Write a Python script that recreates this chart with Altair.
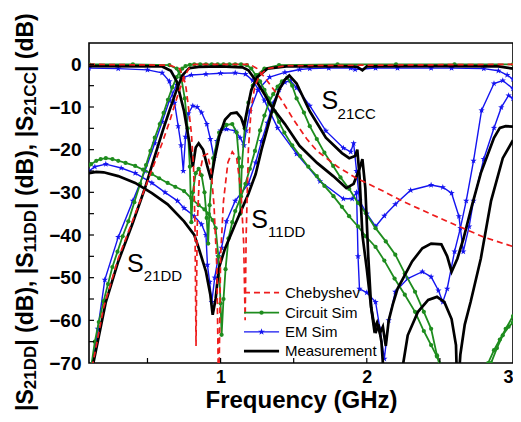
import altair as alt
import pandas as pd

SERIES = ["Chebyshev", "Circuit Sim", "EM Sim", "Measurement"]
X_LABEL_VALUES = [1, 2, 3]
Y_LABEL_VALUES = [0, -10, -20, -30, -40, -50, -60, -70]
X_TICK_VALUES = [0.5, 1.0, 1.5, 2.0, 2.5]
Y_TICK_VALUES = [0, -5, -10, -15, -20, -25, -30, -35, -40, -45, -50, -55, -60, -65]

# ---------------- Chebyshev (red dashed) ----------------
cheb_s21dd_f = [0.10, 0.127, 0.20, 0.30, 0.40, 0.50, 0.60, 0.65, 0.70, 0.75, 0.79, 0.82, 1.00, 1.20,
                1.25, 1.30, 1.35, 1.41, 1.50, 1.59, 1.66, 1.80, 1.93, 2.10, 2.24, 2.40, 2.55, 2.80, 3.00]
cheb_s21dd_db = [-78, -70, -57, -45.5, -36.5, -27.5, -18.5, -13.5, -8, -3, -0.6, 0, 0, 0,
                 -1, -3, -5.3, -8, -13, -17.5, -20.3, -24, -26.7, -29.5, -32, -34.5, -36.8, -40.5, -42.7]
cheb_s11dd_f = [0.10, 0.65, 0.72, 0.76, 0.78, 0.80, 0.815, 0.825, 0.832, 0.84, 0.855, 0.88, 0.91, 0.935,
                0.955, 0.975, 0.987, 1.00, 1.02, 1.05, 1.08, 1.11, 1.14, 1.158, 1.168, 1.175, 1.19, 1.21,
                1.235, 1.27, 1.32, 1.45, 3.00]
cheb_s11dd_db = [0, -0.2, -1, -4.5, -10, -16, -24, -38, -66, -38, -26, -21.5, -21, -25,
                 -33, -48, -80, -45, -32, -23, -20.5, -22, -30, -42, -60, -40, -20, -10,
                 -5, -2.5, -1, -0.3, 0]

# ---------------- Circuit Sim (green, dots) ----------------
circ_s21dd_f = [0.10, 0.11, 0.14, 0.167, 0.20, 0.23, 0.26, 0.295, 0.33, 0.369, 0.41, 0.45, 0.49, 0.52,
                0.55, 0.584, 0.61, 0.64, 0.67, 0.70, 0.72, 0.738, 0.76, 0.79, 0.82, 0.86, 0.90, 0.94,
                0.98, 1.02, 1.06, 1.10, 1.14, 1.18, 1.21, 1.24, 1.27, 1.30, 1.33, 1.37, 1.40, 1.436,
                1.49, 1.544, 1.60, 1.658, 1.71, 1.772, 1.83, 1.879, 1.94, 1.993, 2.06, 2.12, 2.19, 2.26,
                2.33, 2.39, 2.44, 2.48, 2.51, 2.54, 2.70, 2.80, 2.83, 2.87, 2.91, 2.95, 3.00]
circ_s21dd_db = [-80, -72, -65, -60.4, -55.5, -51.5, -47.5, -43.9, -40.3, -36.8, -32.3, -28, -23.6, -20.3,
                 -17.2, -14, -11.4, -8.3, -5.4, -3, -1.7, -1, -0.4, -0.1, 0, 0, 0, 0,
                 0, 0, 0, 0, 0, -0.2, -1, -2.5, -4, -6, -8, -11, -13.5, -16,
                 -19, -21.5, -24, -26.2, -28.5, -30.9, -33.4, -35.6, -38, -40.3, -42.8, -46, -50.2, -54,
                 -58, -62.5, -65.8, -68.5, -70.5, -73, -90, -73, -70, -67, -64.5, -62, -59]
circ_s11dd_f = [0.10, 0.40, 0.65, 0.70, 0.73, 0.755, 0.775, 0.79, 0.80, 0.81, 0.83, 0.85, 0.87, 0.89,
                0.905, 0.915, 0.925, 0.95, 0.99, 1.04, 1.08, 1.11, 1.125, 1.135, 1.145, 1.165, 1.19,
                1.22, 1.25, 1.30, 1.40, 1.80, 2.20, 2.60, 3.00]
circ_s11dd_db = [0, 0, -0.2, -1, -3, -8, -15, -24, -37, -30, -25.5, -24.5, -26, -30,
                 -36, -42, -33, -22, -16, -14.2, -14, -16, -22, -35, -24, -15, -9,
                 -5, -2.5, -1, -0.2, 0, 0, 0, 0]
circ_s21cc_f = [0.10, 0.114, 0.15, 0.18, 0.215, 0.26, 0.30, 0.35, 0.416, 0.47, 0.53, 0.58, 0.638, 0.69,
                0.75, 0.80, 0.85, 0.89, 0.92, 0.945, 0.966, 0.985, 1.00, 1.007, 1.02, 1.034, 1.054, 1.08,
                1.10, 1.14, 1.17, 1.20, 1.235, 1.27, 1.30, 1.33, 1.36, 1.39, 1.42, 1.456, 1.49, 1.52,
                1.57, 1.61, 1.658, 1.71, 1.77, 1.82, 1.88, 1.94, 1.993, 2.06, 2.13, 2.195, 2.26, 2.33,
                2.39, 2.44, 2.48, 2.51, 2.65, 2.80, 2.85, 2.89, 2.93, 2.97, 3.00]
circ_s21cc_db = [-23.6, -23.4, -22.6, -22.2, -22, -22.2, -22.6, -23.1, -23.8, -24.7, -25.7, -26.7, -27.8, -28.7,
                 -29.7, -31.4, -33, -34, -35.1, -36.5, -38.4, -45, -56, -63.4, -55, -48, -40.8, -37,
                 -34.4, -31, -28, -24.5, -20.3, -15.5, -12, -9, -7, -5.2, -4, -3.1, -5, -8,
                 -11.3, -14.5, -17.5, -20.7, -23.8, -26.5, -29.2, -32.5, -34.9, -38.4, -41.5, -44.6, -49, -53.3,
                 -58, -62, -68.2, -72, -90, -78, -70, -66.5, -63.5, -61.5, -60.5]

# ---------------- EM Sim (blue, stars) ----------------
em_s21dd_f = [0.10, 0.12, 0.16, 0.208, 0.30, 0.40, 0.483, 0.55, 0.60, 0.65, 0.70, 0.75, 0.80, 0.90,
              1.00, 1.10, 1.17, 1.22, 1.26, 1.30, 1.39, 1.52, 1.68, 1.84, 1.90, 1.93, 1.94, 1.95,
              2.00, 2.06, 2.09, 2.12, 2.15, 2.195, 2.28, 2.38, 2.44, 2.49, 2.52, 2.55, 2.60, 2.64,
              2.68, 2.73, 2.785, 2.87, 2.93, 3.00]
em_s21dd_db = [-80, -72, -62, -50.5, -40.5, -32, -25, -18.5, -13.5, -8.5, -4.8, -3, -2.5, -2.3,
               -2.1, -2.0, -2.3, -3.8, -6, -8.5, -14.9, -21, -27.4, -31.5, -31.5, -30, -45, -52.6,
               -53.5, -55.7, -62, -69, -60, -53.3, -50.2, -48.6, -49.8, -53, -55.7, -52.6, -43.9, -38.4,
               -32, -22.6, -10.8, -4.5, -3.8, -5.7]
em_s11dd_f = [0.10, 0.30, 0.50, 0.60, 0.65, 0.685, 0.71, 0.73, 0.745, 0.76, 0.78, 0.81, 0.84, 0.87,
              0.906, 0.93, 0.955, 0.975, 1.00, 1.04, 1.10, 1.134, 1.16, 1.175, 1.20, 1.255, 1.336, 1.44,
              1.54, 1.61, 1.74, 1.89, 1.92, 2.06, 2.21, 2.44, 2.58, 2.80, 2.90, 2.96, 3.00]
em_s11dd_db = [-0.9, -1.0, -1.3, -2, -4, -9, -14.5, -19, -25, -17, -11.5, -9.7, -10, -11.3,
               -14, -17.5, -22, -18, -15.5, -15.2, -15.6, -17.2, -19, -15.5, -11, -6, -3, -1.9,
               -1.2, -1, -0.9, -0.9, -1.2, -0.9, -0.9, -0.9, -0.9, -1.0, -1.5, -2.5, -3.5]
em_s21cc_f = [0.10, 0.14, 0.215, 0.32, 0.416, 0.53, 0.62, 0.705, 0.75, 0.82, 0.87, 0.90, 0.91, 0.925,
              0.94, 0.96, 0.985, 1.007, 1.04, 1.10, 1.19, 1.24, 1.28, 1.32, 1.36, 1.40, 1.44, 1.476,
              1.52, 1.61, 1.72, 1.84, 1.89, 1.91, 1.93, 1.95, 2.00, 2.06, 2.12, 2.195, 2.30, 2.44,
              2.52, 2.58, 2.63, 2.66, 2.70, 2.73, 2.80, 2.87, 2.92, 2.97, 3.00]
em_s21cc_db = [-25, -24, -23.4, -24.3, -25.5, -27.8, -30, -32, -33.7, -35.6, -37.5, -40, -47, -51,
               -55.7, -50, -45, -43, -36.8, -32, -28, -23, -18, -13.7, -9, -6, -4.2, -3.8,
               -5.5, -9.7, -15.6, -19.6, -20.5, -18.5, -25, -32, -35, -38, -35.5, -32.8, -29.5, -28.3,
               -28.8, -30.2, -35.6, -43.9, -38, -32, -22.2, -14.9, -10.1, -7.3, -8]

# ---------------- Measurement (black) ----------------
meas_s21dd_f = [0.10, 0.127, 0.215, 0.30, 0.396, 0.483, 0.55, 0.604, 0.651, 0.698, 0.738, 0.785, 0.85, 1.00,
                1.15, 1.19, 1.255, 1.30, 1.34, 1.44, 1.54, 1.66, 1.77, 1.86, 1.91, 1.95, 1.97, 1.99,
                2.01, 2.03, 2.05, 2.07, 2.09, 2.11, 2.13, 2.15, 2.18, 2.21, 2.31, 2.38, 2.44, 2.51,
                2.55, 2.58, 2.62, 2.66, 2.72, 2.78, 2.87, 2.91, 2.95, 3.00]
meas_s21dd_db = [-76, -70.5, -55.7, -46.2, -37.5, -29, -21.5, -15.6, -10.8, -6.1, -2.6, -0.9, -0.6, -0.5,
                 -0.7, -1.4, -4.5, -7, -9.5, -14, -19.1, -23.1, -26.2, -29, -28, -24.5, -22.2, -29,
                 -45, -57, -62, -60.5, -63, -61.5, -66, -60, -56, -52.6, -46.2, -43.1, -42, -42.2,
                 -45, -48.6, -45.5, -41, -33, -25.5, -17.2, -14.9, -14.5, -14.6]
meas_s11dd_f = [0.10, 0.60, 0.66, 0.70, 0.75, 0.785, 0.81, 0.83, 0.85, 0.88, 0.91, 0.935, 0.96, 0.99,
                1.03, 1.07, 1.11, 1.14, 1.16, 1.18, 1.21, 1.25, 1.32, 1.45, 1.90, 1.935, 1.97, 2.00,
                2.50, 2.90, 3.00]
meas_s11dd_db = [-0.4, -0.5, -1.5, -4, -11, -18, -24, -19.5, -18.5, -20, -24, -27, -22, -17,
                 -13, -11.5, -11.3, -12.5, -14.5, -11, -6, -3, -1, -0.5, -0.5, -0.6, -1.4, -0.5,
                 -0.4, -0.5, -1.0]
meas_s21cc_f = [0.10, 0.15, 0.20, 0.30, 0.416, 0.53, 0.638, 0.75, 0.82, 0.85, 0.90, 0.93, 0.946, 0.966,
                0.987, 1.03, 1.10, 1.19, 1.24, 1.28, 1.32, 1.36, 1.40, 1.44, 1.47, 1.52, 1.61, 1.72,
                1.83, 1.88, 1.92, 1.935, 1.95, 1.97, 2.00, 2.03, 2.06, 2.08, 2.10, 2.12, 2.18, 2.24,
                2.28, 2.35, 2.42, 2.48, 2.53, 2.58, 2.61, 2.62, 2.64, 2.67, 2.71, 2.78, 2.85, 2.93, 3.00]
meas_s21cc_db = [-25.5, -25.2, -25.3, -26.2, -27.8, -30.2, -32.8, -36.8, -40, -43, -48.6, -54, -58.7, -55,
                 -47.9, -43.2, -37.5, -30.4, -25.7, -20, -15, -10, -6, -3.6, -2.6, -4.5, -11, -17.2,
                 -20.8, -22, -21.5, -20, -26, -40, -48, -57, -63, -61, -65, -75, -90, -72,
                 -63.5, -58, -55.2, -54.5, -55.7, -59.7, -65.8, -78, -68, -61, -55.7, -45.5, -32, -22, -17.8]

CURVES = [
    ("Chebyshev", "S21DD", cheb_s21dd_f, cheb_s21dd_db),
    ("Chebyshev", "S11DD", cheb_s11dd_f, cheb_s11dd_db),
    ("Circuit Sim", "S21DD", circ_s21dd_f, circ_s21dd_db),
    ("Circuit Sim", "S11DD", circ_s11dd_f, circ_s11dd_db),
    ("Circuit Sim", "S21CC", circ_s21cc_f, circ_s21cc_db),
    ("EM Sim", "S21DD", em_s21dd_f, em_s21dd_db),
    ("EM Sim", "S11DD", em_s11dd_f, em_s11dd_db),
    ("EM Sim", "S21CC", em_s21cc_f, em_s21cc_db),
    ("Measurement", "S21DD", meas_s21dd_f, meas_s21dd_db),
    ("Measurement", "S11DD", meas_s11dd_f, meas_s11dd_db),
    ("Measurement", "S21CC", meas_s21cc_f, meas_s21cc_db),
]

rows = []
for s, c, fs, ds in CURVES:
    for i, (f, d) in enumerate(zip(fs, ds)):
        rows.append({"series": s, "curve": s + "|" + c, "f": f, "db": d, "i": i})
df = pd.DataFrame(rows)

PLOT_W, PLOT_H = 424, 320
FONT = "Liberation Sans"
XS = alt.Scale(domain=[0.1, 3.0], nice=False, zero=False)
YS = alt.Scale(domain=[-70, 5], nice=False, zero=False)
X_AXIS = alt.Axis(values=X_LABEL_VALUES, format="d", title="Frequency (GHz)", grid=False, ticks=False,
                  domain=False, labelFont=FONT, labelFontWeight="bold", labelFontSize=18, labelColor="black",
                  labelPadding=5, titleFont=FONT, titleFontWeight="bold", titleFontSize=24, titleColor="black",
                  titlePadding=2)
Y_AXIS = alt.Axis(values=Y_LABEL_VALUES, title=None, grid=False, ticks=False, domain=False,
                  labelFont=FONT, labelFontWeight="bold", labelFontSize=19, labelColor="black", labelPadding=8)


def X(field):
    return alt.X(field, type="quantitative", scale=XS, axis=X_AXIS)


def Y(field):
    return alt.Y(field, type="quantitative", scale=YS, axis=Y_AXIS)


GREEN, BLUE, RED = "#1e8c1e", "#1414f0", "#ee1c1c"
STYLE = {
    "Chebyshev": dict(color=RED, strokeWidth=1.7, strokeDash=[6, 4]),
    "Circuit Sim": dict(color=GREEN, strokeWidth=1.8),
    "EM Sim": dict(color=BLUE, strokeWidth=1.4),
    "Measurement": dict(color="#000000", strokeWidth=2.7),
}
STAR = "M0,-1L0.235,-0.324L0.951,-0.309L0.38,0.124L0.588,0.809L0,0.4L-0.588,0.809L-0.38,0.124L-0.951,-0.309L-0.235,-0.324Z"


def curve_lines(name):
    return alt.Chart(df).transform_filter(alt.datum.series == name).mark_line(
        clip=True, **STYLE[name]).encode(x=X("f"), y=Y("db"), detail="curve:N", order="i:Q")


def curve_points(name, **kw):
    return alt.Chart(df).transform_filter(alt.datum.series == name).mark_point(
        clip=True, filled=True, opacity=1, **kw).encode(x=X("f"), y=Y("db"))


green_pts = curve_points("Circuit Sim", shape="circle", size=18, color=GREEN)
blue_pts = curve_points("EM Sim", shape=STAR, size=44, color=BLUE)

# inside ticks (lengths in pixels converted to data units)
x_tick_len = 5 * 2.9 / PLOT_W
y_tick_len = 5 * 75 / PLOT_H
ytick_df = pd.DataFrame({"v": Y_TICK_VALUES, "a": 0.1, "b": 0.1 + x_tick_len})
xtick_df = pd.DataFrame({"v": X_TICK_VALUES, "a": -70, "b": -70 + y_tick_len})
yticks = alt.Chart(ytick_df).mark_rule(color="black", strokeWidth=1.2).encode(x=X("a"), x2="b", y=Y("v"))
xticks = alt.Chart(xtick_df).mark_rule(color="black", strokeWidth=1.2).encode(x=X("v"), y=Y("a"), y2="b")

# legend (layout, in data units)
leg_df = pd.DataFrame({"series": SERIES, "x1": 1.16, "x2": 1.40, "xm": 1.28, "xt": 1.44,
                       "y": [-53.5, -58.2, -62.7, -67.2]})
legend_layers = []
for name in SERIES:
    legend_layers.append(alt.Chart(leg_df).transform_filter(alt.datum.series == name).mark_rule(**STYLE[name])
                         .encode(x=X("x1"), x2="x2", y=Y("y")))
legend_layers.append(alt.Chart(leg_df).transform_filter(alt.datum.series == "Circuit Sim").mark_point(
    shape="circle", size=18, filled=True, opacity=1, color=GREEN).encode(x=X("xm"), y=Y("y")))
legend_layers.append(alt.Chart(leg_df).transform_filter(alt.datum.series == "EM Sim").mark_point(
    shape=STAR, size=50, filled=True, opacity=1, color=BLUE).encode(x=X("xm"), y=Y("y")))
legend_layers.append(alt.Chart(leg_df).mark_text(align="left", baseline="middle", font=FONT, fontSize=15,
                                                 color="black").encode(x=X("xt"), y=Y("y"), text="series:N"))

# curve annotations
ann_main = pd.DataFrame({"t": ["S", "S", "S"], "f": [0.36, 1.21, 1.69], "db": [-48.6, -38.4, -10.4]})
ann_sub = pd.DataFrame({"t": ["21DD", "11DD", "21CC"], "f": [0.475, 1.325, 1.80], "db": [-50.7, -40.4, -12.7]})
ann1 = alt.Chart(ann_main).mark_text(align="left", baseline="alphabetic", font=FONT, fontSize=25,
                                     color="black").encode(x=X("f"), y=Y("db"), text="t:N")
ann2 = alt.Chart(ann_sub).mark_text(align="left", baseline="alphabetic", font=FONT, fontSize=15,
                                    color="black").encode(x=X("f"), y=Y("db"), text="t:N")

# rotated y title with subscripts (Arial-bold advance widths, em units)
W = {'|': 0.28, 'S': 0.667, '2': 0.556, '1': 0.556, 'D': 0.722, 'C': 0.722, ' ': 0.278, '(': 0.333,
     'd': 0.611, 'B': 0.722, ')': 0.333, ',': 0.278}
MAIN, SUB = 23, 17
segs = [("|S", False), ("21DD", True), ("| (dB), |S", False), ("11DD", True), ("| (dB), |S", False),
        ("21CC", True), ("| (dB)", False)]
title_layers = []
pos = 411 - 43
one = pd.DataFrame({"k": [0]})
for txt, sub in segs:
    size = SUB if sub else MAIN
    xpix = (36 if sub else 33) - 89
    title_layers.append(alt.Chart(one).mark_text(text=txt, angle=270, align="left", baseline="alphabetic",
                                                 font=FONT, fontWeight="bold", fontSize=size, color="black")
                        .encode(x=alt.value(xpix), y=alt.value(pos)))
    pos -= sum(W[ch] for ch in txt) * size

chart = alt.layer(
    curve_lines("EM Sim"), blue_pts,
    curve_lines("Circuit Sim"), green_pts,
    curve_lines("Measurement"),
    curve_lines("Chebyshev"),
    yticks, xticks,
    *legend_layers, ann1, ann2, *title_layers,
).properties(
    width=PLOT_W, height=PLOT_H,
    autosize=alt.AutoSizeParams(type="none"),
    padding={"left": 81, "top": 35, "right": 0, "bottom": 51},
).configure(background="white").configure_view(stroke="black", strokeWidth=1.6)

chart.save("out.html", embed_options={"renderer": "svg", "actions": False})
